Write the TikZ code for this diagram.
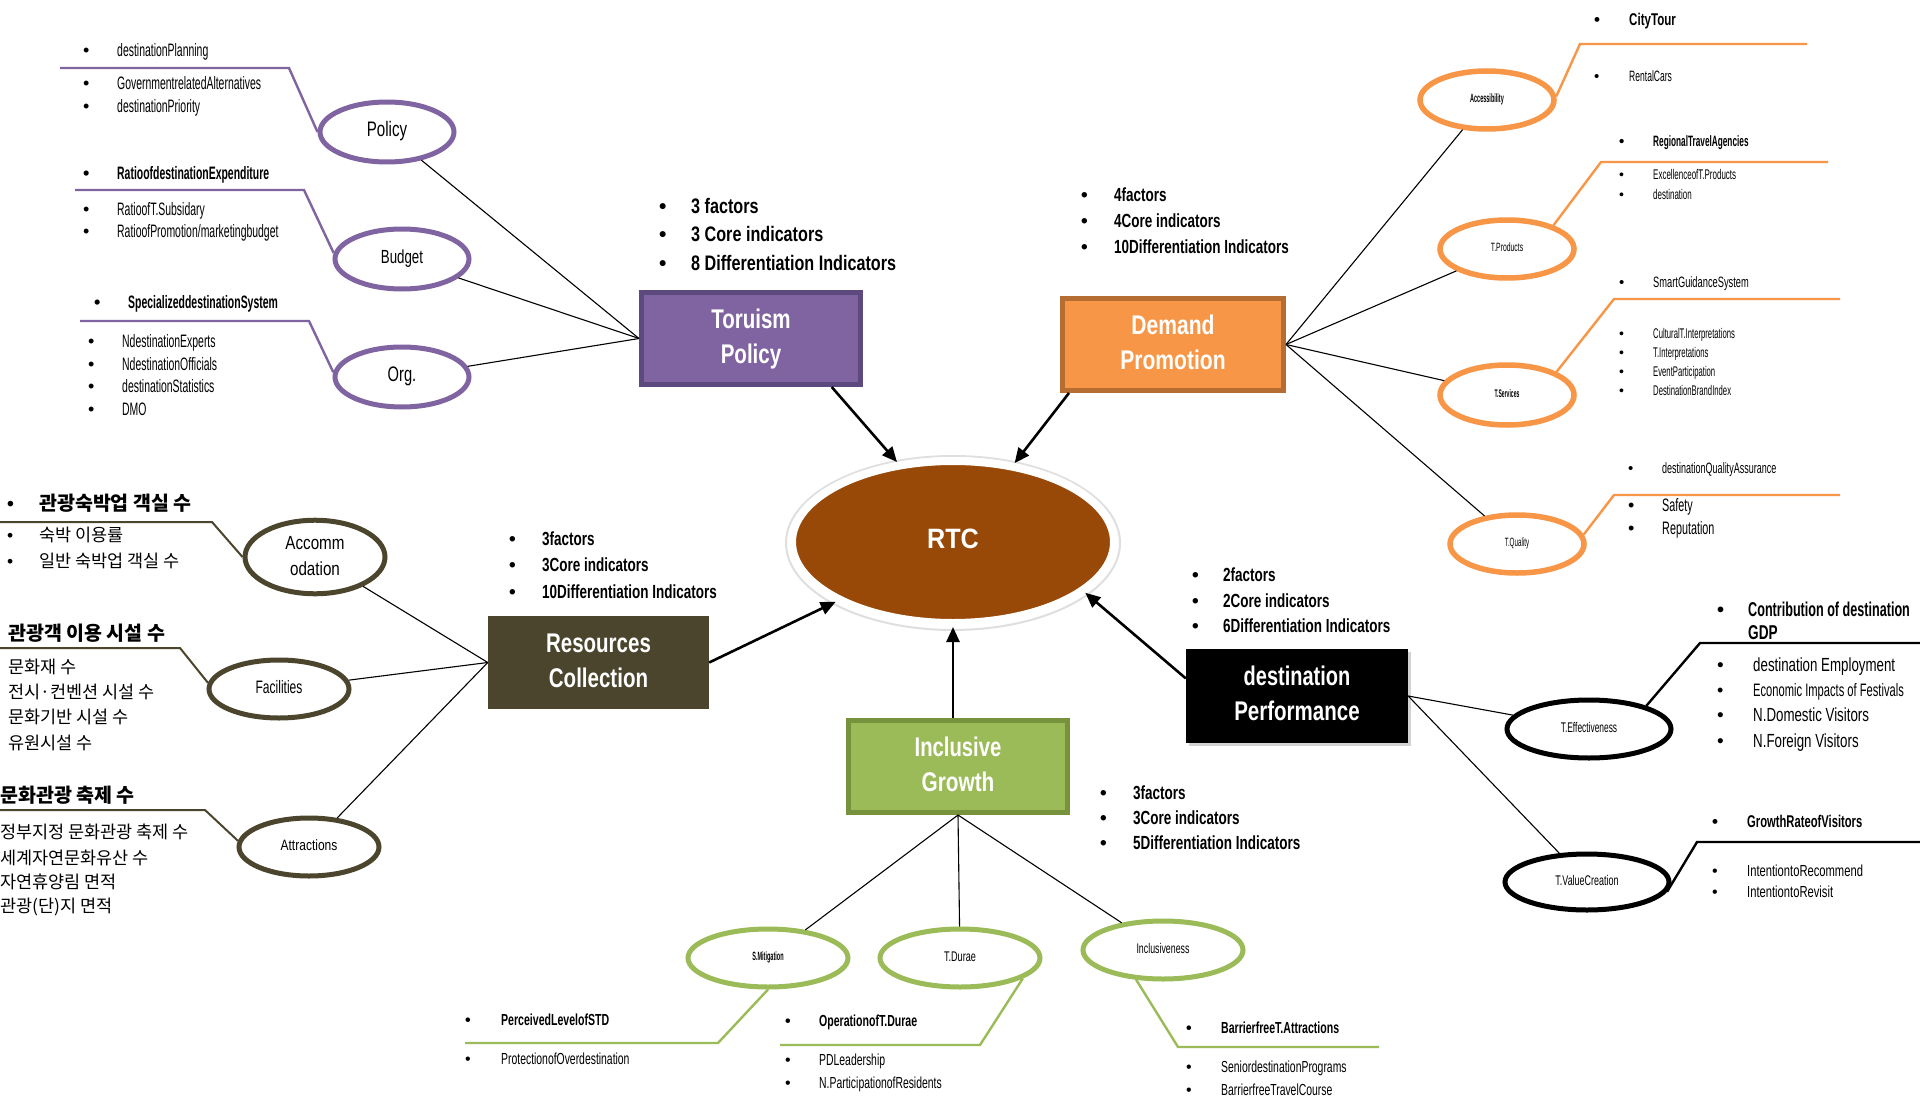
\documentclass[tikz,border=0pt]{standalone}
\usepackage{graphicx}
\usepackage{fontspec}
\setmainfont{Liberation Sans}
\newfontfamily\kr{Noto Sans CJK KR}
\usetikzlibrary{shapes.geometric,arrows.meta,shadows}

\definecolor{tpfill}{HTML}{8064A2}
\definecolor{tpline}{HTML}{5C4A7E}
\definecolor{dpfill}{HTML}{F79646}
\definecolor{dpline}{HTML}{B66D31}
\definecolor{rcfill}{HTML}{4A452C}
\definecolor{igfill}{HTML}{9BBB59}
\definecolor{igline}{HTML}{76923C}
\definecolor{rtcfill}{HTML}{984807}

% font size / baseline skip in px-sized points
\newcommand\fz[2]{\fontsize{#1}{#2}\selectfont}
% horizontally squeezed text
\newcommand\hs[2]{\scalebox{#1}[1]{\strut #2}}
% bullet in a box of fixed width
\newcommand\bu[1]{\makebox[#1pt][l]{\rmfamily\strut\textbullet}}

\begin{document}
\begin{tikzpicture}[x=1pt,y=-1pt,
  mainbox/.style={rectangle, inner sep=0pt, text=white, align=center, font=\fz{27}{35}\bfseries},
  subell/.style={ellipse, inner sep=0pt, line width=5pt, fill=white, align=center},
  tx/.style={anchor=west, inner sep=0pt, text=black},
  link/.style={line width=1.1pt, black},
  bracket/.style={line width=2.4pt},
  arr/.style={line width=2.6pt, black, -{Triangle[length=15pt,width=13pt]}}]

\useasboundingbox (0,0) rectangle (1920,1097);
\fill[white] (0,0) rectangle (1920,1097);

% ---------- centre ----------
\draw[gray!25, line width=2pt] (953,543) ellipse [x radius=167, y radius=87];
\node[ellipse, minimum width=322pt, minimum height=162pt, fill=rtcfill, draw=white,
      line width=8pt, inner sep=0pt, text=white, font=\fz{28}{34}\bfseries] (rtc) at (953,542) {\hs{.9}{RTC}};

% ---------- five dimension boxes ----------
\node[mainbox, fill=tpfill, draw=tpline, line width=5pt, minimum width=219pt, minimum height=92pt]
  (tp) at (751,338.5) {\hs{.76}{Toruism}\\\hs{.76}{Policy}};
\node[mainbox, fill=dpfill, draw=dpline, line width=5pt, minimum width=221pt, minimum height=92pt]
  (dp) at (1173,344.5) {\hs{.78}{Demand}\\\hs{.78}{Promotion}};
\node[mainbox, fill=rcfill, minimum width=221pt, minimum height=93pt]
  (rc) at (598.5,662.5) {\hs{.76}{Resources}\\\hs{.76}{Collection}};
\node[mainbox, fill=igfill, draw=igline, line width=5pt, minimum width=219pt, minimum height=92pt]
  (ig) at (958,766.5) {\hs{.75}{Inclusive}\\\hs{.77}{Growth}};
\node[mainbox, fill=black, minimum width=222pt, minimum height=94pt,
      drop shadow={opacity=.35, shadow xshift=3pt, shadow yshift=-3pt}]
  (pf) at (1297,696) {\hs{.74}{destination}\\\hs{.76}{Performance}};

% ---------- arrows into RTC ----------
\draw[arr] (tp.-31) -- (rtc.125);
\draw[arr] (dp.-155) -- (rtc.52);
\draw[arr] (rc.east) -- (rtc.207);
\draw[arr] (rtc.south |- ig.north) -- (rtc.south);
\draw[arr] (pf.171) -- (rtc.-21);

% ---------- factor counts ----------
\node[tx, font=\fz{21}{26}\bfseries] (ftp1) at (659,208) {\bu{32}\hs{.77}{3 factors}};
\node[tx, font=\fz{21}{26}\bfseries] (ftp2) at (659,236) {\bu{32}\hs{.77}{3 Core indicators}};
\node[tx, font=\fz{21}{26}\bfseries] (ftp3) at (659,265) {\bu{32}\hs{.77}{8 Differentiation Indicators}};

\node[tx, font=\fz{19}{24}\bfseries] (fdp1) at (1081,197) {\bu{33}\hs{.71}{4factors}};
\node[tx, font=\fz{19}{24}\bfseries] (fdp2) at (1081,223) {\bu{33}\hs{.71}{4Core indicators}};
\node[tx, font=\fz{19}{24}\bfseries] (fdp3) at (1081,249) {\bu{33}\hs{.71}{10Differentiation Indicators}};

\node[tx, font=\fz{19}{24}\bfseries] (frc1) at (509,541) {\bu{33}\hs{.71}{3factors}};
\node[tx, font=\fz{19}{24}\bfseries] (frc2) at (509,567) {\bu{33}\hs{.71}{3Core indicators}};
\node[tx, font=\fz{19}{24}\bfseries] (frc3) at (509,594) {\bu{33}\hs{.71}{10Differentiation Indicators}};

\node[tx, font=\fz{19}{24}\bfseries] (fpf1) at (1192,577) {\bu{31}\hs{.71}{2factors}};
\node[tx, font=\fz{19}{24}\bfseries] (fpf2) at (1192,603) {\bu{31}\hs{.71}{2Core indicators}};
\node[tx, font=\fz{19}{24}\bfseries] (fpf3) at (1192,628) {\bu{31}\hs{.71}{6Differentiation Indicators}};

\node[tx, font=\fz{19}{24}\bfseries] (fig1) at (1100,795) {\bu{33}\hs{.71}{3factors}};
\node[tx, font=\fz{19}{24}\bfseries] (fig2) at (1100,820) {\bu{33}\hs{.71}{3Core indicators}};
\node[tx, font=\fz{19}{24}\bfseries] (fig3) at (1100,845) {\bu{33}\hs{.71}{5Differentiation Indicators}};

% ---------- Tourism Policy branch ----------
\node[subell, draw=tpfill, minimum width=134pt, minimum height=60pt, font=\fz{21}{24}] (pol) at (387,132) {\hs{.72}{Policy}};
\node[subell, draw=tpfill, minimum width=134pt, minimum height=60pt, font=\fz{19}{22}] (bud) at (402,259) {\hs{.7}{Budget}};
\node[subell, draw=tpfill, minimum width=134pt, minimum height=60pt, font=\fz{21}{24}] (org) at (402,377) {\hs{.7}{Org.}};
\draw[link] (tp.west) -- (pol);
\draw[link] (tp.west) -- (bud);
\draw[link] (tp.west) -- (org);
\coordinate (pk1) at (289,68);  \coordinate (pe1) at (60,68);
\coordinate (pk2) at (304,190); \coordinate (pe2) at (75,190);
\coordinate (pk3) at (309,321); \coordinate (pe3) at (80,321);
\draw[bracket, tpfill] (pol.west) -- (pk1) -- (pe1);
\draw[bracket, tpfill] (bud.175) -- (pk2) -- (pe2);
\draw[bracket, tpfill] (org.176) -- (pk3) -- (pe3);

\node[tx, font=\fz{18}{23}] (p1) at (83,52) {\bu{34}\hs{.58}{destinationPlanning}};
\node[tx, font=\fz{18}{23}] (p2) at (83,85) {\bu{34}\hs{.58}{GovernmentrelatedAlternatives}};
\node[tx, font=\fz{18}{23}] (p3) at (83,108) {\bu{34}\hs{.58}{destinationPriority}};
\node[tx, font=\fz{18}{23}\bfseries] (p4) at (83,175) {\bu{34}\hs{.58}{RatioofdestinationExpenditure}};
\node[tx, font=\fz{18}{23}] (p5) at (83,211) {\bu{34}\hs{.58}{RatioofT.Subsidary}};
\node[tx, font=\fz{18}{23}] (p6) at (83,233) {\bu{34}\hs{.58}{RatioofPromotion/marketingbudget}};
\node[tx, font=\fz{18}{23}\bfseries] (p7) at (94,304) {\bu{34}\hs{.58}{SpecializeddestinationSystem}};
\node[tx, font=\fz{18}{23}] (p8) at (88,343) {\bu{34}\hs{.58}{NdestinationExperts}};
\node[tx, font=\fz{18}{23}] (p9) at (88,366) {\bu{34}\hs{.58}{NdestinationOfficials}};
\node[tx, font=\fz{18}{23}] (p10) at (88,388) {\bu{34}\hs{.58}{destinationStatistics}};
\node[tx, font=\fz{18}{23}] (p11) at (88,411) {\bu{34}\hs{.58}{DMO}};

% ---------- Demand Promotion branch ----------
\node[subell, draw=dpfill, line width=5.5pt, minimum width=134pt, minimum height=58pt, font=\fz{12}{14}\bfseries] (acc) at (1487,100) {\hs{.46}{Accessibility}};
\node[subell, draw=dpfill, line width=5.5pt, minimum width=134pt, minimum height=58pt, font=\fz{12}{14}] (tpr) at (1507,249) {\hs{.57}{T.Products}};
\node[subell, draw=dpfill, line width=5.5pt, minimum width=134pt, minimum height=60pt, font=\fz{11}{13}\bfseries] (tsv) at (1507,395) {\hs{.46}{T.Services}};
\node[subell, draw=dpfill, line width=5.5pt, minimum width=134pt, minimum height=58pt, font=\fz{12}{14}] (tqu) at (1517,544) {\hs{.52}{T.Quality}};
\draw[link] (dp.east) -- (acc);
\draw[link] (dp.east) -- (tpr);
\draw[link] (dp.east) -- (tsv);
\draw[link] (dp.east) -- (tqu);
\coordinate (ok1) at (1580,44);  \coordinate (oe1) at (1807,44);
\coordinate (ok2) at (1601,162); \coordinate (oe2) at (1828,162);
\coordinate (ok3) at (1614,299); \coordinate (oe3) at (1840,299);
\coordinate (ok4) at (1614,495); \coordinate (oe4) at (1840,495);
\draw[bracket, dpfill] (acc.3) -- (ok1) -- (oe1);
\draw[bracket, dpfill] (tpr.27) -- (ok2) -- (oe2);
\draw[bracket, dpfill] (tsv.25) -- (ok3) -- (oe3);
\draw[bracket, dpfill] (tqu.8) -- (ok4) -- (oe4);

\node[tx, font=\fz{17}{22}\bfseries] (o1) at (1594,21) {\bu{35}\hs{.68}{CityTour}};
\node[tx, font=\fz{15}{19}] (o2) at (1594,78) {\bu{35}\hs{.57}{RentalCars}};
\node[tx, font=\fz{15}{19}\bfseries] (o3) at (1619,143) {\bu{34}\hs{.55}{RegionalTravelAgencies}};
\node[tx, font=\fz{14}{18}] (o4) at (1619,176) {\bu{34}\hs{.57}{ExcellenceofT.Products}};
\node[tx, font=\fz{14}{18}] (o5) at (1619,196) {\bu{34}\hs{.57}{destination}};
\node[tx, font=\fz{15}{19}] (o6) at (1619,284) {\bu{34}\hs{.62}{SmartGuidanceSystem}};
\node[tx, font=\fz{14}{18}] (o7) at (1619,335) {\bu{34}\hs{.55}{CulturalT.Interpretations}};
\node[tx, font=\fz{14}{18}] (o8) at (1619,354) {\bu{34}\hs{.55}{T.Interpretations}};
\node[tx, font=\fz{14}{18}] (o9) at (1619,373) {\bu{34}\hs{.55}{EventParticipation}};
\node[tx, font=\fz{14}{18}] (o10) at (1619,392) {\bu{34}\hs{.55}{DestinationBrandIndex}};
\node[tx, font=\fz{15}{19}] (o11) at (1628,470) {\bu{34}\hs{.6}{destinationQualityAssurance}};
\node[tx, font=\fz{18}{22}] (o12) at (1628,507) {\bu{34}\hs{.6}{Safety}};
\node[tx, font=\fz{18}{22}] (o13) at (1628,530) {\bu{34}\hs{.6}{Reputation}};

% ---------- Resources Collection branch ----------
\node[subell, draw=rcfill, minimum width=140pt, minimum height=58pt, font=\fz{19}{26}] (acm) at (315,557) {\hs{.8}{Accomm}\\\hs{.8}{odation}};
\node[subell, draw=rcfill, minimum width=140pt, minimum height=58pt, font=\fz{18}{22}] (fac) at (279,689) {\hs{.67}{Facilities}};
\node[subell, draw=rcfill, minimum width=140pt, minimum height=58pt, font=\fz{15}{18}] (att) at (309,847) {\hs{.8}{Attractions}};
\draw[link] (rc.west) -- (acm);
\draw[link] (rc.west) -- (fac);
\draw[link] (rc.west) -- (att);
\coordinate (kk1) at (212,522); \coordinate (ke1) at (0,522);
\coordinate (kk2) at (180,648); \coordinate (ke2) at (0,648);
\coordinate (kk3) at (205,810); \coordinate (ke3) at (0,810);
\draw[bracket, rcfill, line width=2pt] (acm.west) -- (kk1) -- (ke1);
\draw[bracket, rcfill, line width=2pt] (fac.175) -- (kk2) -- (ke2);
\draw[bracket, rcfill, line width=2pt] (att.175) -- (kk3) -- (ke3);

\node[tx, font=\kr\fz{19.5}{25}\bfseries] (k1) at (7,505) {\bu{32}관광숙박업 객실 수};
\node[tx, font=\kr\fz{17.5}{23}] (k2) at (7,537) {\bu{32}숙박 이용률};
\node[tx, font=\kr\fz{17.5}{23}] (k3) at (7,563) {\bu{32}일반 숙박업 객실 수};
\node[tx, font=\kr\fz{19.5}{25}\bfseries] (k4) at (8,633) {관광객 이용 시설 수};
\node[tx, font=\kr\fz{17.5}{23}] (k5) at (8,667) {문화재 수};
\node[tx, font=\kr\fz{17.5}{23}] (k6) at (8,692) {전시·컨벤션 시설 수};
\node[tx, font=\kr\fz{17.5}{23}] (k7) at (8,717) {문화기반 시설 수};
\node[tx, font=\kr\fz{17.5}{23}] (k8) at (8,743) {유원시설 수};
\node[tx, font=\kr\fz{19.5}{25}\bfseries] (k9) at (0,795) {문화관광 축제 수};
\node[tx, font=\kr\fz{17.5}{23}] (k10) at (0,832) {정부지정 문화관광 축제 수};
\node[tx, font=\kr\fz{17.5}{23}] (k11) at (0,858) {세계자연문화유산 수};
\node[tx, font=\kr\fz{17.5}{23}] (k12) at (0,882) {자연휴양림 면적};
\node[tx, font=\kr\fz{17.5}{23}] (k13) at (0,907) {관광(단)지 면적};

% ---------- Inclusive Growth branch ----------
\node[subell, draw=igfill, minimum width=160pt, minimum height=58pt, font=\fz{12}{14}\bfseries] (smi) at (768,958) {\hs{.46}{S.Mitigation}};
\node[subell, draw=igfill, minimum width=160pt, minimum height=58pt, font=\fz{14}{16}] (tdu) at (960,958) {\hs{.65}{T.Durae}};
\node[subell, draw=igfill, minimum width=160pt, minimum height=58pt, font=\fz{14}{16}] (inc) at (1163,950) {\hs{.63}{Inclusiveness}};
\draw[link] (ig.south) -- (smi);
\draw[link] (ig.south) -- (tdu);
\draw[link] (ig.south) -- (inc);
\coordinate (gk1) at (718,1043); \coordinate (ge1) at (465,1043);
\coordinate (gk2) at (980,1045); \coordinate (ge2) at (780,1045);
\coordinate (gk3) at (1178,1047); \coordinate (ge3) at (1379,1047);
\draw[bracket, igfill] (smi.south) -- (gk1) -- (ge1);
\draw[bracket, igfill] (tdu.-18) -- (gk2) -- (ge2);
\draw[bracket, igfill] (inc.-132) -- (gk3) -- (ge3);

\node[tx, font=\fz{16}{20}\bfseries] (g1) at (465,1021) {\bu{36}\hs{.66}{PerceivedLevelofSTD}};
\node[tx, font=\fz{16}{20}] (g2) at (465,1060) {\bu{36}\hs{.65}{ProtectionofOverdestination}};
\node[tx, font=\fz{16}{20}\bfseries] (g3) at (785,1022) {\bu{34}\hs{.66}{OperationofT.Durae}};
\node[tx, font=\fz{16}{20}] (g4) at (785,1061) {\bu{34}\hs{.65}{PDLeadership}};
\node[tx, font=\fz{16}{20}] (g5) at (785,1084) {\bu{34}\hs{.65}{N.ParticipationofResidents}};
\node[tx, font=\fz{16}{20}\bfseries] (g6) at (1186,1029) {\bu{35}\hs{.66}{BarrierfreeT.Attractions}};
\node[tx, font=\fz{16}{20}] (g7) at (1186,1068) {\bu{35}\hs{.65}{SeniordestinationPrograms}};
\node[tx, font=\fz{16}{20}] (g8) at (1186,1091) {\bu{35}\hs{.65}{BarrierfreeTravelCourse}};

% ---------- destination Performance branch ----------
\node[subell, draw=black, minimum width=164pt, minimum height=58pt, font=\fz{14}{16}] (tef) at (1589,729) {\hs{.6}{T.Effectiveness}};
\node[subell, draw=black, minimum width=164pt, minimum height=56pt, font=\fz{14}{16}] (tvc) at (1587,882) {\hs{.64}{T.ValueCreation}};
\draw[link] (pf.east) -- (tef);
\draw[link] (pf.east) -- (tvc);
\coordinate (bk1) at (1700,643); \coordinate (be1) at (1920,643);
\coordinate (bk2) at (1697,842); \coordinate (be2) at (1920,842);
\draw[bracket, black] (tef.22) -- (bk1) -- (be1);
\draw[bracket, black] (tvc.-7) -- (bk2) -- (be2);

\node[tx, font=\fz{20}{24}\bfseries] (b1) at (1717,612) {\bu{31}\hs{.63}{Contribution of destination}};
\node[tx, font=\fz{20}{24}\bfseries] (b2) at (1748,635) {\hs{.68}{GDP}};
\node[tx, font=\fz{19}{24}] (b3) at (1717,667) {\bu{36}\hs{.7}{destination Employment}};
\node[tx, font=\fz{18}{24}] (b4) at (1717,692) {\bu{36}\hs{.62}{Economic Impacts of Festivals}};
\node[tx, font=\fz{19}{24}] (b5) at (1717,717) {\bu{36}\hs{.7}{N.Domestic Visitors}};
\node[tx, font=\fz{19}{24}] (b6) at (1717,743) {\bu{36}\hs{.7}{N.Foreign Visitors}};
\node[tx, font=\fz{17}{22}\bfseries] (b7) at (1712,823) {\bu{35}\hs{.66}{GrowthRateofVisitors}};
\node[tx, font=\fz{16}{20}] (b8) at (1712,872) {\bu{35}\hs{.7}{IntentiontoRecommend}};
\node[tx, font=\fz{16}{20}] (b9) at (1712,893) {\bu{35}\hs{.7}{IntentiontoRevisit}};

\end{tikzpicture}
\end{document}
